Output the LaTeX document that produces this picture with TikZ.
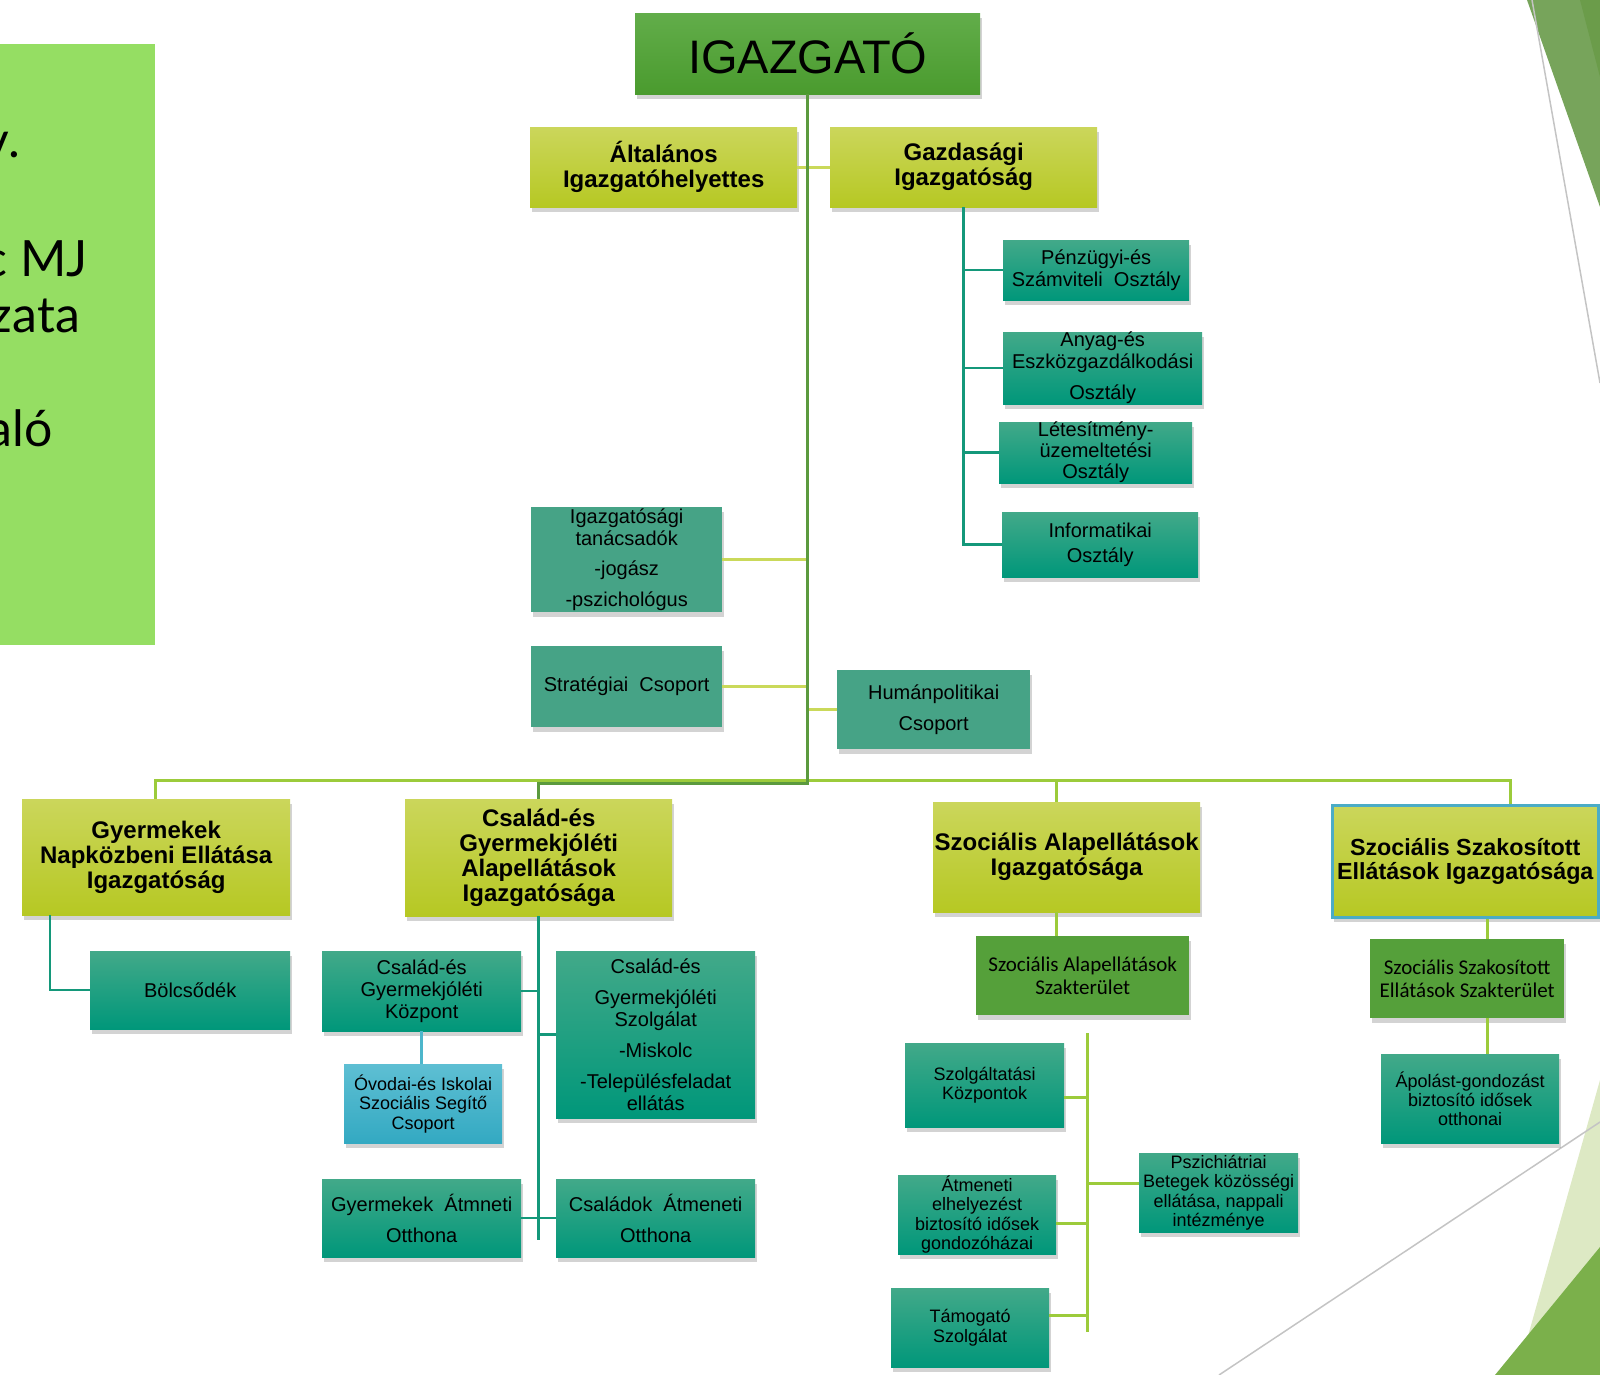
\documentclass[tikz,border=0pt]{standalone}
\usepackage{fontspec}
\setmainfont{Liberation Sans}
\newfontfamily\carlito{Carlito}
\newfontfamily\panelfont{Lato}
\usetikzlibrary{shadows}

\definecolor{igtop}{HTML}{62AD4A}
\definecolor{igbot}{HTML}{4A9B2E}
\definecolor{yeltop}{HTML}{CBD65B}
\definecolor{yelbot}{HTML}{B6C823}
\definecolor{tealtop}{HTML}{42A989}
\definecolor{tealbot}{HTML}{00977A}
\definecolor{flatteal}{HTML}{46A386}
\definecolor{fieldgreen}{HTML}{55A03A}
\definecolor{bluetop}{HTML}{5EBFD3}
\definecolor{bluebot}{HTML}{33A9C2}
\definecolor{panelgreen}{HTML}{95DE63}
\definecolor{cMain}{HTML}{5B9A3E}
\definecolor{cBus}{HTML}{9CCB3B}
\definecolor{cLight}{HTML}{CAD95A}
\definecolor{cTeal}{HTML}{14987A}
\definecolor{cBlue}{HTML}{4DB6CB}
\definecolor{cFrame}{HTML}{4BACC6}
\definecolor{decodark}{HTML}{77A45B}
\definecolor{decodeep}{HTML}{6B9C4A}
\definecolor{decopale}{HTML}{DDE9C4}
\definecolor{decogreen}{HTML}{7BB04B}
\definecolor{decoline}{HTML}{C4C4C4}

\begin{document}
\begin{tikzpicture}
		[x=1pt, y=-1pt,
		orgbox/.style={rectangle, anchor=north west, inner sep=0pt, align=center,
			drop shadow={shadow xshift=2pt, shadow yshift=-5pt, opacity=0.35}},
		wh/.style 2 args={minimum width=#1, minimum height=#2},
		chiefbox/.style={orgbox, top color=igtop, bottom color=igbot,
			font=\fontsize{47}{50}\selectfont},
		headbox/.style={orgbox, top color=yeltop, bottom color=yelbot,
			font=\bfseries\fontsize{24}{25}\selectfont},
		unitbox/.style={orgbox, top color=tealtop, bottom color=tealbot,
			font=\fontsize{20}{22}\selectfont},
		staffbox/.style={orgbox, fill=flatteal, font=\fontsize{20}{22}\selectfont},
		fieldbox/.style={orgbox, fill=fieldgreen,
			font=\carlito\fontsize{21}{23.5}\selectfont},
		minorbox/.style={unitbox, font=\fontsize{18}{19.4}\selectfont},
		schoolbox/.style={orgbox, top color=bluetop, bottom color=bluebot,
			font=\fontsize{18}{19.4}\selectfont},
		mainline/.style={draw=cMain, line width=3pt},
		busline/.style={draw=cBus, line width=3pt},
		lightline/.style={draw=cLight, line width=3pt},
		tealline/.style={draw=cTeal, line width=2.5pt},
		blueline/.style={draw=cBlue, line width=2.5pt},
		paneltext/.style={anchor=base east, inner sep=0pt,
			font=\panelfont\fontsize{50}{54}\selectfont}
		]
		\useasboundingbox (0,0) rectangle (1600,1375);
		\fill[panelgreen] (0,44) rectangle (155,645);
		\node[paneltext] (pv) at (20,158) {v.};
		\node[paneltext] (pmj) at (88,276) {c MJ};
		\node[paneltext] (pzata) at (80,332) {zata};
		\node[paneltext] (palo) at (53,446) {aló};
		\fill[decodark] (1527,0) -- (1600,0) -- (1600,207) -- cycle;
		\fill[decodeep] (1580,0) -- (1600,0) -- (1600,77) -- cycle;
		\draw[decoline, line width=1.5pt] (1532,0) -- (1600,383);
		\fill[decopale] (1600,1080) -- (1517,1375) -- (1600,1375) -- cycle;
		\fill[decogreen] (1600,1247) -- (1600,1375) -- (1495,1375) -- cycle;
		\draw[decoline, line width=1.5pt] (1219,1375) -- (1600,1122);

		\node[chiefbox, wh={345}{81}] (igazgato) at (635,13) {IGAZGATÓ};
		\node[headbox, wh={267}{80}] (altalanos) at (530,127) {Általános\\Igazgatóhelyettes};
		\node[headbox, wh={267}{80}] (gazdasagi) at (830,127) {Gazdasági\\Igazgatóság};
		\node[unitbox, wh={186}{60}] (penzugyi) at (1003,240) {Pénzügyi-és\\Számviteli\ \ Osztály};
		\node[unitbox, wh={199}{63}] (anyag) at (1003,332) {Anyag-és\\Eszközgazdálkodási\\[9pt]Osztály};
		\node[unitbox, wh={193}{59}, font=\fontsize{20}{21}\selectfont] (letesitmeny) at (999,422) {Létesítmény-\\üzemeltetési\\Osztály};
		\node[unitbox, wh={196}{65}] (informatikai) at (1002,512) {Informatikai\\[3.5pt]Osztály};
		\node[staffbox, wh={191}{105}] (tanacsadok) at (531,507) {Igazgatósági\\tanácsadók\\[8.5pt]-jogász\\[8.5pt]-pszichológus};
		\node[staffbox, wh={191}{81}] (strategiai) at (531,646) {Stratégiai\ \ Csoport};
		\node[staffbox, wh={193}{79}] (humanpol) at (837,670) {Humánpolitikai\\[8.5pt]Csoport};
		\node[headbox, wh={268}{116}] (napkozbeni) at (22,799) {Gyermekek\\Napközbeni Ellátása\\Igazgatóság};
		\node[headbox, wh={267}{117}] (csaladig) at (405,799) {Család-és\\Gyermekjóléti\\Alapellátások\\Igazgatósága};
		\node[headbox, wh={267}{110}] (alapig) at (933,802) {Szociális Alapellátások\\Igazgatósága};
		\node[headbox, wh={266}{112}, draw=cFrame, line width=2.5pt,
			font=\bfseries\fontsize{23.3}{24.5}\selectfont] (szakig) at (1331,804) {Szociális Szakosított\\Ellátások Igazgatósága};
		\node[unitbox, wh={200}{78}] (bolcsodek) at (90,951) {Bölcsődék};
		\node[unitbox, wh={199}{80}] (kozpont) at (322,951) {Család-és\\Gyermekjóléti\\Központ};
		\node[unitbox, wh={199}{167}] (szolgalat) at (556,951) {Család-és\\[9pt]Gyermekjóléti\\Szolgálat\\[9pt]-Miskolc\\[9pt]-Településfeladat\\ellátás};
		\node[schoolbox, wh={158}{79}] (ovodai) at (344,1064) {Óvodai-és Iskolai\\Szociális Segítő\\Csoport};
		\node[unitbox, wh={199}{78}] (gyermekatm) at (322,1179) {Gyermekek\ \ Átmneti\\[8.5pt]Otthona};
		\node[unitbox, wh={199}{78}] (csaladatm) at (556,1179) {Családok\ \ Átmeneti\\[8.5pt]Otthona};
		\node[fieldbox, wh={213}{79}] (alapszakt) at (976,936) {Szociális Alapellátások\\Szakterület};
		\node[minorbox, wh={159}{84}] (szolgkozp) at (905,1043) {Szolgáltatási\\Központok};
		\node[minorbox, wh={158}{79}] (gondozohaz) at (898,1175) {Átmeneti\\elhelyezést\\biztosító idősek\\gondozóházai};
		\node[minorbox, wh={158}{79}] (tamogato) at (891,1288) {Támogató\\Szolgálat};
		\node[minorbox, wh={159}{79}] (pszichiatriai) at (1139,1153) {Pszichiátriai\\Betegek közösségi\\ellátása, nappali\\intézménye};
		\node[fieldbox, wh={194}{79}] (szakszakt) at (1370,939) {Szociális Szakosított\\Ellátások Szakterület};
		\node[minorbox, wh={178}{89}] (apolast) at (1381,1054) {Ápolást-gondozást\\biztosító idősek\\otthonai};

		\coordinate (busL) at (155,780);
		\coordinate (busA) at (1056,780);
		\coordinate (busR) at (1510,780);
		\coordinate (mainC) at (0,783);
		\coordinate (csEnd) at (539,1240);
		\coordinate (alapT) at (1087,1033);
		\coordinate (alapB) at (1087,1332);
		\coordinate (jSzolg) at (1087,1097);
		\coordinate (jPszich) at (1087,1183);
		\coordinate (jGondoz) at (1087,1223);
		\coordinate (jTamog) at (1087,1315);
		\coordinate (szakX) at (1487,0);
		\draw[lightline] (altalanos.east) -- (gazdasagi.west);
		\foreach \n in {tanacsadok,strategiai}
			\draw[lightline] (\n.east) -- (\n.east -| igazgato.south);
		\draw[lightline] (humanpol.west -| igazgato.south) -- (humanpol.west);
		\draw[busline] (busL |- napkozbeni.north) -- (busL) -- (busR) -- (busR |- szakig.north);
		\draw[busline] (busA) -- (busA |- alapig.north);
		\draw[mainline] (igazgato.south) |- (csaladig.north |- mainC) -- (csaladig.north);
		\foreach \n in {penzugyi,anyag,letesitmeny,informatikai}
			\draw[tealline] (gazdasagi.south) |- (\n.west);
		\draw[tealline] ([xshift=-106pt]napkozbeni.south) |- (bolcsodek.west);
		\draw[tealline] (csaladig.south) -- (csaladig.south |- csEnd);
		\draw[tealline] (kozpont.east) -- (kozpont.east -| csaladig.south);
		\draw[tealline] (szolgalat.west -| csaladig.south) -- (szolgalat.west);
		\draw[tealline] (gyermekatm.east) -- (csaladatm.west);
		\draw[blueline] (kozpont.south) -- (kozpont.south |- ovodai.north);
		\draw[busline] (alapig.south -| busA) -- (busA |- alapszakt.north);
		\draw[busline] (alapT) -- (alapB);
		\draw[busline] (szolgkozp.east |- jSzolg) -- (jSzolg);
		\draw[busline] (gondozohaz.east |- jGondoz) -- (jGondoz);
		\draw[busline] (tamogato.east |- jTamog) -- (jTamog);
		\draw[busline] (jPszich) -- (jPszich -| pszichiatriai.west);
		\draw[busline] (szakig.south -| szakX) -- (szakX |- szakszakt.north);
		\draw[busline] (szakszakt.south -| szakX) -- (szakX |- apolast.north);
	\end{tikzpicture}
\end{document}
